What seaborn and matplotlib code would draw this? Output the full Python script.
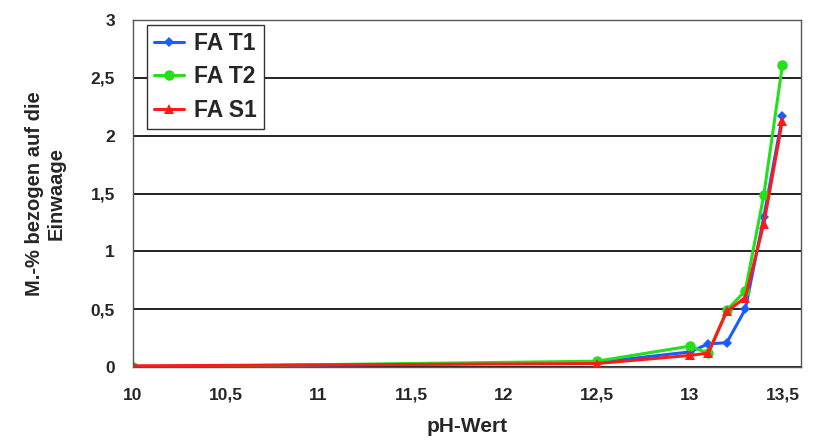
import pandas as pd
import matplotlib.pyplot as plt
import seaborn as sns

# Werte
ph = [10.0, 12.5, 13.0, 13.1, 13.2, 13.3, 13.4, 13.5]
fa_t1 = [0.00, 0.04, 0.13, 0.20, 0.21, 0.50, 1.30, 2.17]
fa_t2 = [0.00, 0.05, 0.18, 0.12, 0.49, 0.66, 1.49, 2.61]
fa_s1 = [0.01, 0.03, 0.10, 0.12, 0.48, 0.60, 1.24, 2.13]

x_ticks = [10, 10.5, 11, 11.5, 12, 12.5, 13, 13.5]
x_labels = ["10", "10,5", "11", "11,5", "12", "12,5", "13", "13,5"]
y_ticks = [0, 0.5, 1, 1.5, 2, 2.5, 3]
y_labels = ["0", "0,5", "1", "1,5", "2", "2,5", "3"]

df = pd.concat([
    pd.DataFrame({"pH": ph, "wert": fa_t1, "Probe": "FA T1"}),
    pd.DataFrame({"pH": ph, "wert": fa_t2, "Probe": "FA T2"}),
    pd.DataFrame({"pH": ph, "wert": fa_s1, "Probe": "FA S1"}),
])

sns.set_theme(style="white")
plt.rcParams["font.family"] = ["Liberation Sans", "DejaVu Sans"]

palette = {"FA T1": "#1a5cff", "FA T2": "#22e01a", "FA S1": "#ff1a1a"}
markers = {"FA T1": "D", "FA T2": "o", "FA S1": "^"}
sizes = {"FA T1": 5, "FA T2": 7.5, "FA S1": 7.5}

fig = plt.figure(figsize=(8.14, 4.45), dpi=100)
ax = fig.add_axes([0.1634, 0.1753, 0.8206, 0.7797])

for probe in ["FA T1", "FA T2", "FA S1"]:
    sub = df[df["Probe"] == probe]
    sns.lineplot(data=sub, x="pH", y="wert", color=palette[probe], marker=markers[probe],
                 markersize=sizes[probe], markeredgewidth=0, linewidth=2.2, label=probe, ax=ax)

ax.set_xlim(10, 13.6)
ax.set_ylim(0, 3)
ax.set_yticks(y_ticks)
ax.set_yticklabels(y_labels, fontsize=12.5, fontweight="bold")
ax.set_xticks(x_ticks)
ax.set_xticklabels(x_labels, fontsize=12.5, fontweight="bold")
ax.tick_params(axis="x", length=4, color="#888888", pad=11)
ax.tick_params(axis="y", length=5, color="#888888", pad=8)
ax.grid(axis="y", color="#111111", linewidth=1.3)
ax.set_axisbelow(True)
for side in ["left", "right", "top", "bottom"]:
    ax.spines[side].set_color("#555555")
    ax.spines[side].set_linewidth(1.0)

ax.set_xlabel("pH-Wert", fontsize=15, fontweight="bold", labelpad=10)
ax.set_ylabel("M.-% bezogen auf die\nEinwaage", fontsize=14.5, fontweight="bold", labelpad=18)

# Legende oben links mit Rahmen
leg = ax.legend(loc="upper left", bbox_to_anchor=(0.021, 0.985), frameon=True, fancybox=False,
                prop={"weight": "bold", "size": 16.5}, handlelength=1.3, handletextpad=0.45,
                borderpad=0.3, labelspacing=0.45, borderaxespad=0)
leg.get_frame().set_edgecolor("#333333")
leg.get_frame().set_linewidth(1.0)
leg.get_frame().set_alpha(1)

plt.savefig("out.png", dpi=100)
